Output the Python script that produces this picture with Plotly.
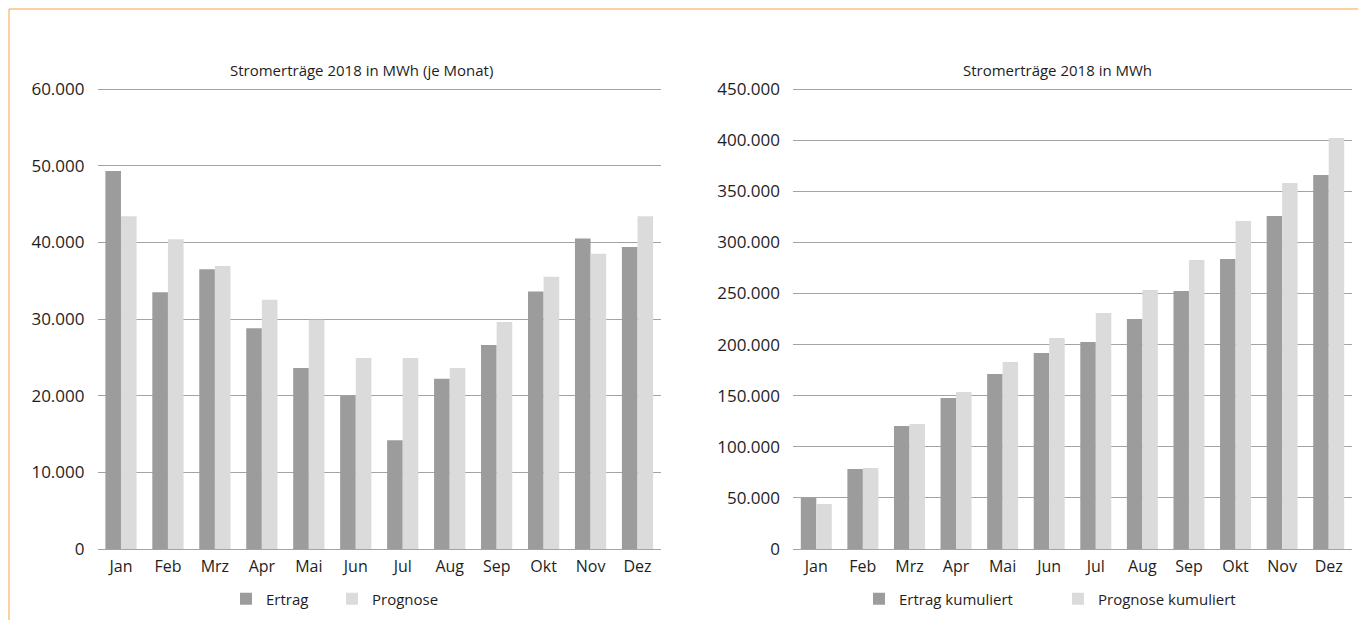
import plotly.graph_objects as go

# Monthly and cumulative electricity yield 2018 (MWh)
months = ["Jan", "Feb", "Mrz", "Apr", "Mai", "Jun", "Jul", "Aug", "Sep", "Okt", "Nov", "Dez"]
ertrag = [49300, 33500, 36500, 28800, 23600, 20000, 14200, 22200, 26600, 33600, 40500, 39400]
prognose = [43400, 40400, 36900, 32500, 29900, 24900, 24900, 23600, 29600, 35500, 38500, 43400]
ertrag_kum = [49900, 78300, 120300, 147700, 171200, 191700, 202500, 225000, 252400, 283700, 325800, 365900]
prognose_kum = [44000, 79200, 122300, 153600, 182900, 206400, 230900, 253400, 282700, 320900, 358000, 402000]

W, H = 1358, 620
MT, MB = 20, 40              # page margins (px) above / below the plotting area
PH = H - MT - MB             # plotting area height (px)
FONT = "Open Sans"
TXT = "#1e1e1e"
DARK = "#9c9c9c"
LIGHT = "#dadbda"
GRID = "#a3a3a3"
BORDER = "#f2a541"


def py(pix):
    """Pixel row (from top of page) -> paper y fraction."""
    return (H - MB - pix) / PH


fig = go.Figure()
fig.add_trace(go.Bar(x=months, y=ertrag, name="Ertrag", marker=dict(color=DARK, line_width=0),
                     xaxis="x", yaxis="y", legend="legend"))
fig.add_trace(go.Bar(x=months, y=prognose, name="Prognose", marker=dict(color=LIGHT, line_width=0),
                     xaxis="x", yaxis="y", legend="legend"))
fig.add_trace(go.Bar(x=months, y=ertrag_kum, name="Ertrag kumuliert", marker=dict(color=DARK, line_width=0),
                     xaxis="x2", yaxis="y2", legend="legend2"))
fig.add_trace(go.Bar(x=months, y=prognose_kum, name="Prognose kumuliert", marker=dict(color=LIGHT, line_width=0),
                     xaxis="x2", yaxis="y2", legend="legend2"))

# slight headroom above the top tick so its gridline is kept
HEAD = 1.005
ydom = [py(549), py(549 - 460 * HEAD)]
xaxis_common = dict(showgrid=False, zeroline=False, showline=False, ticks="",
                    tickfont=dict(family=FONT, size=16, color=TXT), ticklabelstandoff=6)
yaxis_common = dict(showgrid=True, gridcolor=GRID, gridwidth=1, zeroline=True, zerolinecolor=GRID,
                    zerolinewidth=1, showline=False, ticks="", tickformat=",.0f",
                    tickfont=dict(family=FONT, size=17, color=TXT), ticklabelstandoff=12, domain=ydom)

legend_common = dict(orientation="h", font=dict(family=FONT, size=15, color=TXT),
                     bgcolor="rgba(0,0,0,0)", borderwidth=0, yanchor="middle", xanchor="left",
                     entrywidthmode="pixels", traceorder="normal")

fig.update_layout(
    width=W, height=H,
    margin=dict(l=0, r=0, t=MT, b=MB, autoexpand=False),
    paper_bgcolor="white", plot_bgcolor="white",
    separators=",.",
    barmode="group", bargap=0.335, bargroupgap=0,
    xaxis=dict(domain=[97.5 / W, 661 / W], anchor="y", **xaxis_common),
    yaxis=dict(range=[0, 60000 * HEAD], tickvals=[0, 10000, 20000, 30000, 40000, 50000, 60000],
               anchor="x", **yaxis_common),
    xaxis2=dict(domain=[793 / W, 1352 / W], anchor="y2", **xaxis_common),
    yaxis2=dict(range=[0, 450000 * HEAD], tickvals=[0, 50000, 100000, 150000, 200000, 250000, 300000,
                                                    350000, 400000, 450000],
                anchor="x2", **yaxis_common),
    legend=dict(x=226 / W, y=py(599), entrywidth=61, **legend_common),
    legend2=dict(x=859 / W, y=py(599), entrywidth=154, **legend_common),
    annotations=[
        dict(text="Stromerträge 2018 in MWh (je Monat)", x=361 / W, y=py(70), xref="paper", yref="paper",
             showarrow=False, xanchor="center", yanchor="middle", font=dict(family=FONT, size=15, color=TXT)),
        dict(text="Stromerträge 2018 in MWh", x=1057 / W, y=py(70), xref="paper", yref="paper",
             showarrow=False, xanchor="center", yanchor="middle", font=dict(family=FONT, size=15, color=TXT)),
    ],
    shapes=[
        dict(type="line", xref="paper", yref="paper", x0=9 / W, x1=1, y0=py(9), y1=py(9),
             line=dict(color=BORDER, width=1)),
        dict(type="line", xref="paper", yref="paper", x0=9 / W, x1=9 / W, y0=py(H), y1=py(9),
             line=dict(color=BORDER, width=1)),
    ],
)

fig.write_html("out.html")
